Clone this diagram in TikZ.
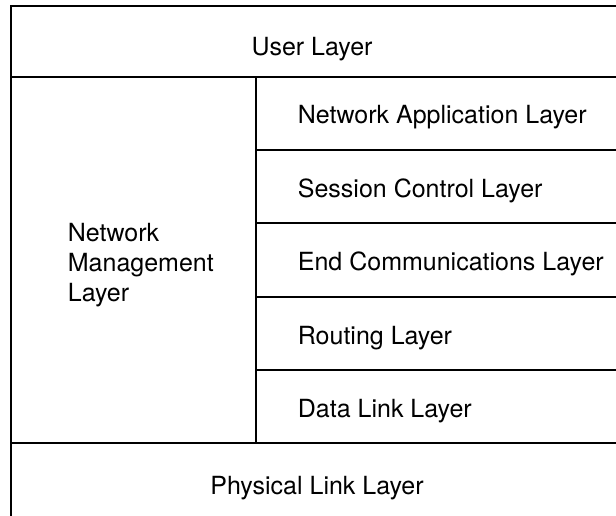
\documentclass[tikz,border=0pt]{standalone}
\usepackage{fontspec}
\setmainfont{TeX Gyre Heros}

\begin{document}
\begin{tikzpicture}[x=1pt, y=-1pt, line width=1.8pt,
  every node/.style = {font=\fontsize{25}{30}\selectfont, inner sep=0pt},
  mainlayer/.style = {anchor=base},
  sublayer/.style = {anchor=base west}]
  \useasboundingbox (0,0) rectangle (616,516);
  \clip (0,0) rectangle (616,516);
  % frame and dividers
  \draw (11,6) rectangle (630,530);
  \draw (11,77) -- (630,77);
  \draw (11,443) -- (630,443);
  \draw (256,77) -- (256,443);
  \foreach \y in {150,223,297,370}
    \draw (256,\y) -- (630,\y);
  % layers
  \node[mainlayer] (user) at (312,56) {User Layer};
  \node[anchor=west, align=left] (mgmt) at (67,265) {Network\\Management\\Layer};
  \node[sublayer] (app) at (297,124) {Network Application Layer};
  \node[sublayer] (session) at (297,197) {Session Control Layer};
  \node[sublayer] (endcomm) at (297,270) {End Communications Layer};
  \node[sublayer] (routing) at (297,344) {Routing Layer};
  \node[sublayer] (datalink) at (297,417) {Data Link Layer};
  \node[mainlayer] (phys) at (317,494) {Physical Link Layer};
\end{tikzpicture}
\end{document}
